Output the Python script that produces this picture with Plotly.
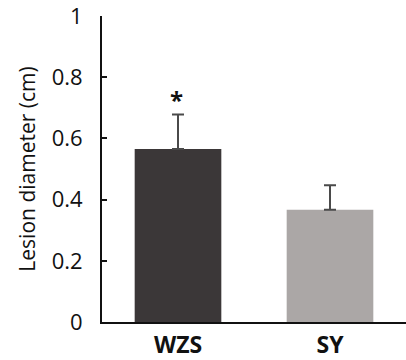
import plotly.graph_objects as go

categories = ["WZS", "SY"]
means = [0.565, 0.367]
errors = [0.113, 0.080]
bar_colors = ["#3b3738", "#aba7a6"]
y_ticks = [0, 0.2, 0.4, 0.6, 0.8, 1]
y_tick_labels = ["0", "0.2", "0.4", "0.6", "0.8", "1"]
sig_marks = ["*", ""]

fig = go.Figure()
fig.add_trace(go.Bar(
    x=categories, y=means, width=0.57,
    marker=dict(color=bar_colors, line=dict(width=0)),
    error_y=dict(type="data", array=errors, symmetric=False, arrayminus=[0, 0],
                 color="#4a4a4a", thickness=2, width=6),
))
for c, m, e, s in zip(categories, means, errors, sig_marks):
    if s:
        fig.add_annotation(x=c, y=m + e, text="<b>" + s + "</b>", showarrow=False, yshift=15,
                           xshift=-2, font=dict(family="Open Sans", size=24, color="#111111"))

fig.update_layout(
    width=406, height=360,
    margin=dict(l=102, r=0, t=16, b=37.5),
    plot_bgcolor="white", paper_bgcolor="white",
    showlegend=False,
    font=dict(family="Open Sans", color="#111111"),
    xaxis=dict(range=[-0.5, 1.5], showline=True, linecolor="#111111", linewidth=2,
               ticks="", tickfont=dict(size=23, family="Open Sans", weight="bold"),
               ticklabelstandoff=1,
               showgrid=False, zeroline=False, automargin=False),
    yaxis=dict(range=[0, 1], tickvals=y_ticks, ticktext=y_tick_labels,
               showline=True, linecolor="#111111", linewidth=2,
               ticks="inside", ticklen=5, tickwidth=2, tickcolor="#111111",
               ticklabelstandoff=13, automargin=False, ticklabeloverflow="allow",
               tickfont=dict(size=22, weight=500), showgrid=False, zeroline=False,
               title=dict(text="Lesion diameter (cm)", font=dict(size=21, weight=500), standoff=10)),
)
fig.write_html("out.html", config={"displayModeBar": False},
               post_script="document.body.style.margin='0px';")
